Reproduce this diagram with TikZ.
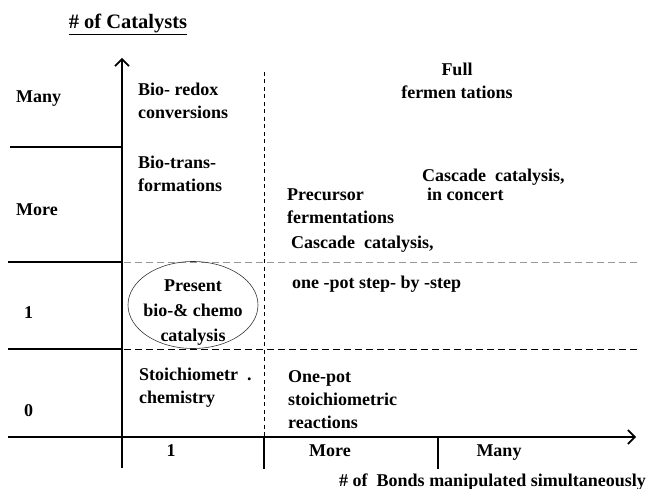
\documentclass[tikz,border=0pt]{standalone}
\usepackage{fontspec}
\setmainfont{Liberation Serif}
\usetikzlibrary{arrows.meta}

\begin{document}
\begin{tikzpicture}[x=1pt,y=-1pt,
    txt/.style={font=\fontsize{18}{23}\selectfont\bfseries, anchor=base west, align=left, inner sep=0pt},
    axis/.style={line width=1.6pt, -{Straight Barb[length=7pt,width=14pt,line width=1.6pt]}},
    rule/.style={line width=1.6pt},
    grid/.style={line width=0.9pt, dash pattern=on 7pt off 4pt}]
\useasboundingbox (0,0) rectangle (648,489);

\draw [axis] (122,468) -- (122,58);
\draw [axis] (8,437) -- (636,437);

\draw [rule] (10,147) -- (122,147);
\draw [rule] (8,262) -- (122,262);
\draw [rule] (8,349) -- (122,349);

\draw [rule] (264,437) -- (264,469);
\draw [rule] (438,437) -- (438,469);

\draw [line width=0.8pt, dash pattern=on 4pt off 3.5pt] (264,72) -- (264,437);
\draw [grid, gray!80] (124,262) -- (640,262);
\draw [grid] (124,349) -- (640,349);

\draw [line width=0.6pt, black!80] (193,305) ellipse (65 and 43.5);

\node [font=\fontsize{20.5}{24}\selectfont\bfseries] (ycap) at (128,24) {\underline{\# of Catalysts}};

\node [txt] (ymany) at (16,103) {Many};
\node [txt] (ymore) at (16,216) {More};
\node [txt] (yone) at (24,318) {1};
\node [txt] (yzero) at (24,416) {0};

\node [txt, anchor=base] (xone) at (171,456) {1};
\node [txt, anchor=base] (xmore) at (330,456) {More};
\node [txt, anchor=base] (xmany) at (499,456) {Many};
\node [txt, anchor=base east] (xcap) at (646,486) {\# of\ \ Bonds manipulated simultaneously};

\node [txt] (redox) at (138,119) {Bio- redox\\conversions};
\node [txt] (trans) at (138,192) {Bio-trans-\\formations};
\node [txt, anchor=base, align=center] (fullferm) at (457,99) {Full\\fermen tations};
\node [txt, font=\fontsize{18}{19}\selectfont\bfseries] (concert) at (422,201) {Cascade\ \ catalysis,\\\hspace{5pt}in concert};
\node [txt] (precursor) at (287,224) {Precursor\\fermentations};
\node [txt] (cascade) at (291,248) {Cascade\ \ catalysis,};
\node [txt] (stepwise) at (292,288) {one -pot step-\ by -step};
\node [txt, anchor=base, align=center, font=\fontsize{18}{25}\selectfont\bfseries] (present) at (193,341) {Present\\bio-\& chemo\\catalysis};
\node [txt] (stoich) at (139,403) {Stoichiometr\ \ .\\chemistry};
\node [txt] (onepot) at (288,428) {One-pot\\stoichiometric\\reactions};
\end{tikzpicture}
\end{document}
